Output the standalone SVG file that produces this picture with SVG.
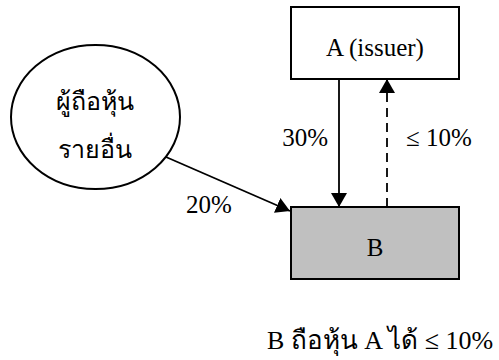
<svg xmlns="http://www.w3.org/2000/svg" width="499" height="360" viewBox="0 0 499 360">
<style>
.t{font-family:"Liberation Serif","Times New Roman",serif;font-size:25px;fill:#000}
.box{stroke:#000;stroke-width:2}
.ln{stroke:#000;stroke-width:1.8;fill:none}
</style>
<defs>
<marker id="arr" viewBox="0 0 14 16" refX="14" refY="8" markerWidth="14" markerHeight="16" orient="auto" markerUnits="userSpaceOnUse">
<path d="M0,0 L14,8 L0,16 Z" fill="#000"/>
</marker>
</defs>
<g id="connectors">
<line class="ln" x1="166" y1="157" x2="290" y2="211" marker-end="url(#arr)"/>
<line class="ln" x1="339" y1="79" x2="339" y2="207" marker-end="url(#arr)"/>
<line class="ln" x1="387" y1="207" x2="387" y2="79" stroke-dasharray="9,6" marker-end="url(#arr)"/>
<text class="t" x="328" y="146" text-anchor="end">30%</text>
<text class="t" x="406" y="146">≤ 10%</text>
<text class="t" x="186" y="213">20%</text>
</g>
<g id="nodeA">
<rect class="box" x="291" y="7" width="168" height="72" fill="#fff"/>
<text class="t" x="375" y="56" text-anchor="middle">A (issuer)</text>
</g>
<g id="nodeB">
<rect class="box" x="291" y="207" width="168" height="72" fill="#c0c0c0"/>
<text class="t" x="375" y="256" text-anchor="middle">B</text>
</g>
<g id="nodeOthers">
<ellipse class="box" cx="95.5" cy="117" rx="84.5" ry="72" fill="#fff"/>
<text class="t" x="95" y="110" text-anchor="middle">ผู้ถือหุ้น</text>
<text class="t" x="95" y="158" text-anchor="middle">รายอื่น</text>
</g>
<g id="note">
<text class="t" x="267" y="349" style="font-size:26px">B ถือหุ้น A ได้ ≤ 10%</text>
</g>
</svg>
